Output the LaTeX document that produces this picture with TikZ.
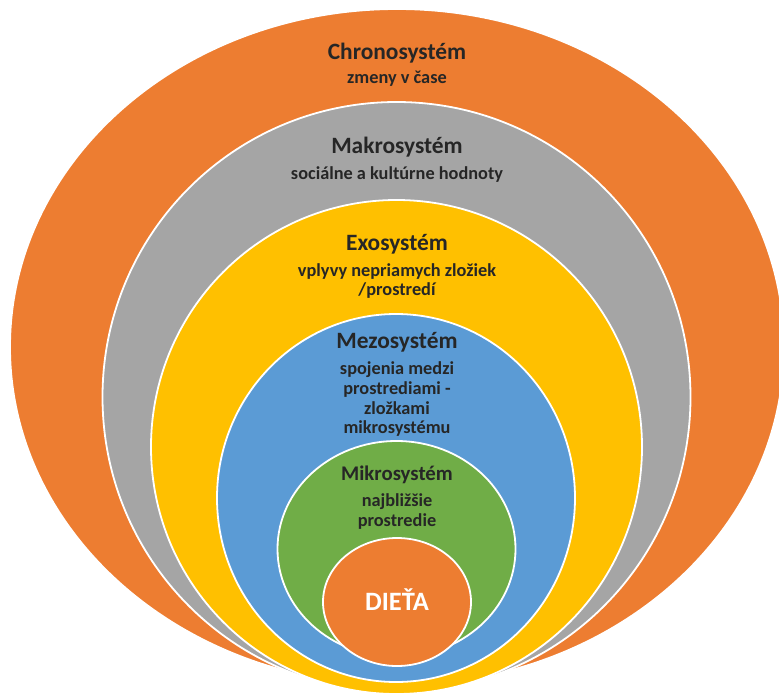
\documentclass[tikz,border=0pt]{standalone}
\usepackage{fontspec}
\setmainfont{Carlito}
\usetikzlibrary{shapes.geometric}
\definecolor{cOrange}{HTML}{ED7D31}
\definecolor{cGray}{HTML}{A5A5A5}
\definecolor{cYellow}{HTML}{FFC000}
\definecolor{cBlue}{HTML}{5B9BD5}
\definecolor{cGreen}{HTML}{70AD47}
\definecolor{cText}{HTML}{262626}
\begin{document}
\begin{tikzpicture}[x=1pt,y=-1pt,
  ring/.style={ellipse, draw=white, line width=1.8pt, inner sep=0pt, outer sep=0pt},
  ttl/.style={anchor=base, inner sep=0pt, text=cText, font=\fontsize{23.4}{28}\selectfont\bfseries},
  ttlsmall/.style={anchor=base, inner sep=0pt, text=cText, font=\fontsize{20.8}{25}\selectfont\bfseries},
  sub/.style={anchor=base, inner sep=0pt, text=cText, font=\fontsize{18.3}{22}\selectfont\bfseries}]
\useasboundingbox (0,0) rectangle (779,694);
\clip (0,0) rectangle (779,694);
% rings
\node[ring, fill=cOrange, minimum width=774pt, minimum height=676pt] (chrono) at (397,347) {};
\node[ring, fill=cGray, minimum width=588pt, minimum height=590pt] (makro) at (396.5,397) {};
\node[ring, fill=cYellow, minimum width=491pt, minimum height=494pt] (exo) at (396.5,447) {};
\node[ring, fill=cBlue, minimum width=358pt, minimum height=368pt] (mezo) at (396,498) {};
\node[ring, fill=cGreen, minimum width=238pt, minimum height=216pt] (mikro) at (396.5,549) {};
\node[ring, fill=cOrange, minimum width=148pt, minimum height=128pt] (dieta) at (397,602) {};
% texts
\node[ttl] (chronoT) at (397,59.5) {Chronosystém};
\node[sub] (chronoS) at (397,83.5) {zmeny v čase};
\node[ttl] (makroT) at (397,153.3) {Makrosystém};
\node[sub] (makroS) at (397,179) {sociálne a kultúrne hodnoty};
\node[ttl] (exoT) at (397,250) {Exosystém};
\node[sub] (exoS1) at (397,276) {vplyvy nepriamych zložiek};
\node[sub] (exoS2) at (397,295.5) {/prostredí};
\node[ttl] (mezoT) at (397,348.3) {Mezosystém};
\node[sub] (mezoS1) at (397,374.5) {spojenia medzi};
\node[sub] (mezoS2) at (397,394.3) {prostrediami -};
\node[sub] (mezoS3) at (397,414.1) {zložkami};
\node[sub] (mezoS4) at (397,433.9) {mikrosystému};
\node[ttlsmall] (mikroT) at (397,480) {Mikrosystém};
\node[sub] (mikroS1) at (397,506.7) {najbližšie};
\node[sub] (mikroS2) at (397,526.7) {prostredie};
\node[anchor=base, inner sep=0pt, text=white, font=\fontsize{26.5}{30}\selectfont\bfseries] (dietaT) at (397,610) {DIEŤA};
\end{tikzpicture}
\end{document}
